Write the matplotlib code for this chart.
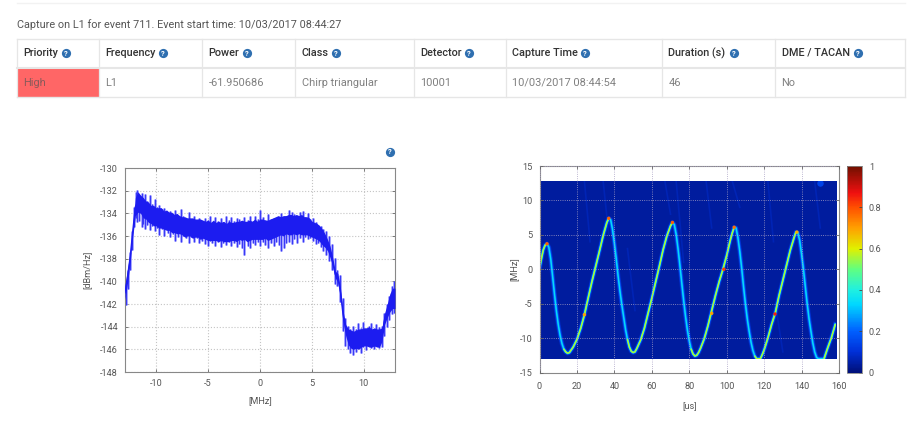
import numpy as np
import matplotlib
matplotlib.use("Agg")
import matplotlib.pyplot as plt
from matplotlib.patches import Rectangle
from matplotlib.cm import ScalarMappable
from matplotlib.colors import Normalize, LinearSegmentedColormap

W, H = 924, 438
TITLE = "Capture on L1 for event 711. Event start time: 10/03/2017 08:44:27"
HEADERS = ["Priority", "Frequency", "Power", "Class", "Detector", "Capture Time", "Duration (s)", "DME / TACAN"]
ROW = ["High", "L1", "-61.950686", "Chirp triangular", "10001", "10/03/2017 08:44:54", "46", "No"]

spec_freq = [-13+0.25*i for i in range(105)]
spec_mid = [-141,-139.5,-137.8,-135.5,-133.4,-133,-133.2,-133.5,-133.7,-133.9,-134.1,-134.2,-134.3,-134.4,-134.4,-134.6,
 -134.6,-134.7,-134.8,-134.9,-134.9,-135,-135.1,-135.2,-135.2,-135.2,-135.3,-135.3,-135.3,-135.4,-135.4,-135.5,-135.5,
 -135.6,-135.5,-135.6,-135.6,-135.6,-135.6,-135.7,-135.6,-135.6,-135.6,-135.6,-135.5,-135.5,-135.5,-135.6,-135.5,-135.5,
 -135.4,-135.5,-135.4,-135.4,-135.4,-135.5,-135.4,-135.3,-135.2,-135.1,-135.1,-135.1,-135,-135,
 -135,-135,-135,-135,-135,-135.1,-135.1,-135.2,-135.4,-135.5,-135.6,-135.8,-136.1,-136.4,-136.8,-137.4,-138.3,-139.4,-139.7,-141,
 -143,-144.3,-144.9,-145.1,-145.2,-145.1,-145.1,-145,-144.9,-144.9,-144.9,-145,-144.9,-145,-145,-144.7,-143.3,-142.6,-141.9,-141.5,-141.5]
core_half = [0.6,0.6,0.5,0.5,0.8,0.9,0.8,0.9,0.8,0.9,0.8,0.9,0.8,0.9,0.9,0.8,
 0.9,0.8,0.9,0.8,0.9,0.8,0.8,0.9,0.8,0.8,0.9,0.8,0.8,0.9,0.8,0.8,0.9,
 0.8,0.9,0.8,0.9,0.8,0.9,0.8,0.9,0.8,0.8,0.9,0.8,0.9,0.8,0.9,0.9,0.8,
 0.9,0.8,0.9,0.9,0.8,0.9,0.9,0.9,0.9,0.9,0.8,0.9,0.8,0.9,
 0.9,0.8,0.9,0.8,0.9,0.8,0.8,0.8,0.7,0.7,0.7,0.7,0.7,0.6,0.5,0.5,0.4,0.3,0.4,0.4,
 0.4,0.5,0.7,0.8,0.8,0.8,0.9,0.8,0.8,0.8,0.9,0.8,0.8,0.8,0.8,0.6,0.5,0.6,0.8,0.9,0.9]

spike_x = [-12.9,-12.7,-12.5,-12.3,-12.1,-11.95,-11.8,-11.62,-11.4,-11.25,-11.05,-10.85,-10.6,-10.4,-10.15,-9.9,-9.7,-9.4,-9.2,-8.9,-8.7,-8.4,-8.15,-7.9,-7.6,-7.4,-7.1,-6.85,-6.6,-6.35,-6.1,-5.85,-5.6,-5.3,-5.05,-4.85,-4.6,-4.3,-4.05,-3.8,-3.55,-3.3,-3,-2.75,-2.5,-2.25,-2,-1.7,-1.5,-1.2,-0.95,-0.7,-0.45,-0.2,0,0.25,0.5,0.8,1.05,1.3,1.55,1.8,2.05,2.3,2.55,2.8,3.05,3.3,3.55,3.85,4.1,4.35,4.6,4.85,5.1,5.35,5.6,5.85,6.1,6.4,6.65,6.9,7.2,7.45,7.7,7.95,8.2,8.45,8.7,8.95,9.2,9.45,9.7,9.95,10.2,10.45,10.7,10.95,11.2,11.45,11.7,11.95,12.2,12.45,12.7,12.95]
spike_hi = [-140.2,-139,-137.4,-135.6,-133.4,-132.1,-131.9,-132.4,-132.2,-132.8,-132.3,-132.9,-132.4,-133.2,-132.7,-133.4,-133.3,-133.6,-133.5,-133.9,-133.8,-134.1,-133.7,-134.2,-133.6,-134.2,-134.4,-133.9,-134.5,-134.2,-134.6,-134.4,-134.7,-134.4,-134.6,-134.2,-134.8,-134.3,-134.7,-134.4,-134.8,-134.2,-134.6,-134.3,-134.7,-134.4,-134.5,-134.7,-134.3,-134.6,-134.2,-134.7,-134.2,-134.5,-133.7,-134.3,-134.6,-134.1,-134.5,-134.4,-134.6,-134.3,-134,-134.4,-134.2,-133.7,-133.9,-134.1,-134.2,-133.9,-133.8,-134.3,-134.0,-134.5,-134.4,-134.8,-135,-135.1,-135.4,-135.6,-136,-136.7,-137.9,-139,-139.4,-141.5,-143.2,-143.9,-144.2,-143.9,-144.2,-143.7,-144.1,-143.6,-144.2,-143.9,-143.7,-144.2,-143.8,-144,-143.9,-142.8,-142,-141.3,-140.4,-140]
spike_lo = [-142.1,-140.7,-139,-137.2,-135.2,-134.4,-134.8,-134.7,-135.2,-134.9,-135.4,-135,-135.5,-135.1,-135.6,-135.3,-135.9,-135.4,-136,-135.7,-136.1,-135.8,-136.4,-136.1,-136.5,-136,-136.2,-136.6,-136.1,-136.5,-136.2,-136.6,-136.4,-136.7,-136.9,-136.4,-136.6,-136.9,-136.5,-137,-136.6,-136.8,-136.5,-136.9,-136.6,-137,-136.7,-137.1,-137.7,-136.9,-137.1,-136.6,-136.8,-136.5,-136.9,-136.5,-136.8,-137.1,-136.6,-136.9,-136.5,-136.8,-137.3,-137.1,-136.6,-136.5,-136.7,-136.3,-136.6,-136.2,-136.5,-136.1,-136.3,-136.2,-136.4,-136.7,-136.6,-137,-137.3,-137.7,-138.2,-139,-140.2,-140.4,-141.8,-144.4,-145.7,-146,-146.3,-146.5,-146.2,-145.9,-146.3,-145.8,-146.1,-145.6,-145.9,-146,-145.7,-145.9,-145.8,-144.8,-144,-143.4,-142.9,-142.8]

ridge_t = [0,1,2,3,4,5,6,7,8,9,10,11,12,13,14,15,16,18,20,22,24,26,28,30,32,34,36,37,38,39,40,41,42,43,44,45,46,47,48,49,50,51,52,54,56,58,60,62,64,66,68,70,71,72,73,74,75,76,77,78,79,80,81,82,83,84,85,86,88,90,92,94,96,98,100,102,103,104,105,106,107,108,109,110,111,112,113,114,115,116,118,119,120,122,124,126,128,130,132,134,136,137,138,139,140,141,142,143,144,145,146,147,148,149,152,153,154,156,158]
ridge_f = [0,1.5,2.8,3.5,3.7,3.2,1.5,-1,-3.6,-6,-8,-9.6,-10.8,-11.6,-12,-12.2,-12.1,-11.3,-10.2,-8.6,-6.6,-4.2,-1.8,0.4,2.6,4.9,6.8,7.4,7.2,5.8,3.8,1.5,-1,-3.2,-5.2,-7,-8.8,-10.2,-11.3,-11.9,-12.1,-12,-11.5,-10.3,-8.6,-6.4,-4.2,-1.9,0.4,2.8,4.8,6.3,6.8,6.5,5.1,3,0.6,-2,-4.5,-6.8,-8.8,-10.4,-11.6,-12.3,-12.6,-12.5,-12.1,-11.5,-10.1,-8.2,-6,-3.8,-1.8,0,2,4.3,5.3,6.1,6,4.6,2.6,0.2,-2.5,-5,-7.2,-9,-10.6,-11.8,-12.6,-13,-13,-12.4,-11.7,-10,-8,-6.3,-3.8,-1.6,0.6,2.8,4.6,5.4,5.3,4.2,2.2,0,-2.5,-5,-7.2,-9,-10.7,-12,-12.8,-13,-13,-12.2,-11.4,-9.9,-8]
rise_spans = [(0, 4), (13, 37), (47, 71), (81, 104), (115, 137.5), (152, 158)]
hot_t = [4, 37, 71, 104, 137.5, 125.8, 98.5, 24, 92]
hot_f = [3.7, 7.4, 6.8, 6.1, 5.4, -6.5, 0, -6.6, -6.4]
hot_v = [0.78, 0.78, 0.78, 0.76, 0.68, 0.85, 0.82, 0.7, 0.7]
streak_t0 = [24, 34, 47, 67, 73, 89, 103, 122, 126, 147]
streak_t1 = [27, 37, 51, 70, 77, 92, 107, 125, 130, 150]
streak_f0 = [12.8, 12.8, 3, 12.8, 12.8, 12.8, 12.8, 12.8, -5, 12.8]
streak_f1 = [4, 5, -6, 8, 1, 6, 9, 4, -12, 6]

plt.rcParams["font.family"] = ["Roboto", "DejaVu Sans"]
plt.rcParams["axes.unicode_minus"] = False
fig = plt.figure(figsize=(W/100, H/100), dpi=100, facecolor="white")

def axpx(x0, y0, x1, y1, **k):
    return fig.add_axes([x0/W, 1-y1/H, (x1-x0)/W, (y1-y0)/H], **k)

pg = fig.add_axes([0, 0, 1, 1])
pg.set_xlim(0, W); pg.set_ylim(H, 0); pg.axis("off")
pg.plot([17, 905], [3, 3], color="#f2f2f2", lw=1)
pg.text(17, 24.5, TITLE, fontsize=7.85, color="#555555", va="center")
cols = [17, 99, 202, 295, 414, 506, 662, 775, 905]
line = "#e6e6e6"
pg.add_patch(Rectangle((17.5, 69), 81.5, 28, color="#ff6666", lw=0))
for y, lw in [(39, 1), (68, 1.5), (97, 1)]:
    pg.plot([17, 905], [y, y], color=line, lw=lw)
for x in cols:
    pg.plot([x, x], [39, 97], color=line, lw=0.9)

def icon(x, y, s=44):
    pg.scatter([x], [y], s=s, color="#2f6fb0", zorder=3, lw=0)
    pg.text(x, y+0.2, "?", color="white", fontsize=5.5, fontweight="bold", ha="center", va="center", zorder=4)

ticons = [66, 163, 247, 336, 469, 585, 734, 858]
for i, (h, r) in enumerate(zip(HEADERS, ROW)):
    pg.text(cols[i]+6.5, 53, h, fontsize=7.8, color="#333333", va="center", fontweight="medium")
    pg.text(cols[i]+6.5, 82.5, r, fontsize=7.9, color="#8a5a5a" if i == 0 else "#808080", va="center")
    icon(ticons[i], 53)
icon(390, 151.5)

tc = "#555555"
def style(ax):
    for s in ax.spines.values():
        s.set_color("#888888"); s.set_linewidth(0.8)
    ax.tick_params(direction="in", top=True, right=True, length=2.5, width=0.6, color="#666666",
                   labelsize=6.6, labelcolor=tc, pad=5)
    ax.grid(True, color="#c4c4c4", linestyle=":", linewidth=0.8)
    ax.set_axisbelow(False)

ax = axpx(125, 168, 395, 372)
style(ax)
ax.set_axisbelow(True)
mid, half = np.array(spec_mid), np.array(core_half)
ax.vlines(spike_x, spike_lo, spike_hi, color="#8a8aff", lw=1.8, zorder=2)
ax.vlines(spike_x, spike_lo, spike_hi, color="#2a2af5", lw=0.6, zorder=3)
ax.fill_between(spec_freq, mid-half, mid+half, color="#1c1cf0", lw=0, zorder=4)
ax.plot(spec_freq, spec_mid, color="#1c1cf0", lw=0.9, zorder=4)
ax.set_xlim(-13, 13); ax.set_ylim(-148, -130)
ax.set_xticks([-10, -5, 0, 5, 10]); ax.set_yticks(range(-148, -129, 2))
ax.set_xlabel("[MHz]", fontsize=6.6, color=tc, labelpad=6)
ax.set_ylabel("[dBm/Hz]", fontsize=6.6, color=tc, labelpad=6)

cmap = LinearSegmentedColormap.from_list("hm", [
    (0, "#00107a"), (0.1, "#0030d8"), (0.2, "#0060ff"), (0.33, "#00d8ff"), (0.4, "#20f0e0"),
    (0.5, "#60ff80"), (0.6, "#e0f000"), (0.7, "#ffa000"), (0.8, "#ff5000"), (0.87, "#f01010"), (1, "#701000")])
bx = axpx(539.5, 166, 839, 372.5)
style(bx)
bx.grid(True, color="#a8a0c4", linestyle=":", linewidth=0.6)
bx.imshow([[0.04]], extent=(0, 158.5, -13, 12.8), cmap=cmap, vmin=0, vmax=1, aspect="auto", zorder=1)
box = Rectangle((0, -13), 158.5, 25.8, transform=bx.transData)
for a, b, c, d in zip(streak_t0, streak_t1, streak_f0, streak_f1):
    s, = bx.plot([a, b], [c, d], color=cmap(0.065), lw=1.2, zorder=1.5)
    s.set_clip_path(box)
blob = bx.scatter([150], [12.6], s=22, color=cmap(0.14), lw=0, zorder=1.6)
blob.set_clip_path(box)
for lw, v in [(3.4, 0.08), (2.5, 0.14), (1.7, 0.22), (1.0, 0.31), (0.5, 0.36)]:
    l, = bx.plot(ridge_t, ridge_f, color=cmap(v), lw=lw, zorder=2, solid_joinstyle="round")
    l.set_clip_path(box)
rt, rf = np.array(ridge_t), np.array(ridge_f)
for t0, t1 in rise_spans:
    m = (rt >= t0) & (rt <= t1)
    for lw, v in [(1.3, 0.42), (0.8, 0.52), (0.45, 0.6)]:
        l, = bx.plot(rt[m], rf[m], color=cmap(v), lw=lw, zorder=2.2, solid_capstyle="round")
        l.set_clip_path(box)
bx.scatter(hot_t, hot_f, c=hot_v, cmap=cmap, vmin=0, vmax=1, s=6, lw=0, zorder=3)
bx.set_xlim(0, 160); bx.set_ylim(-15, 15)
bx.set_xticks(range(0, 161, 20)); bx.set_yticks(range(-15, 16, 5))
bx.tick_params(axis="x", pad=6.5)
bx.set_xlabel("[us]", fontsize=6.6, color=tc, labelpad=8)
bx.set_ylabel("[MHz]", fontsize=6.6, color=tc, labelpad=1)

cx = axpx(846.5, 166, 862, 372.5)
cb = fig.colorbar(ScalarMappable(Normalize(0, 1), cmap), cax=cx)
cb.set_ticks([0, 0.2, 0.4, 0.6, 0.8, 1], labels=["0", "0.2", "0.4", "0.6", "0.8", "1"])
cx.tick_params(direction="in", length=2.5, width=0.6, color="#444444", labelsize=6.6, labelcolor=tc, pad=5)
cb.outline.set_edgecolor("#888888"); cb.outline.set_linewidth(0.6)

fig.savefig("out.png", dpi=100)
